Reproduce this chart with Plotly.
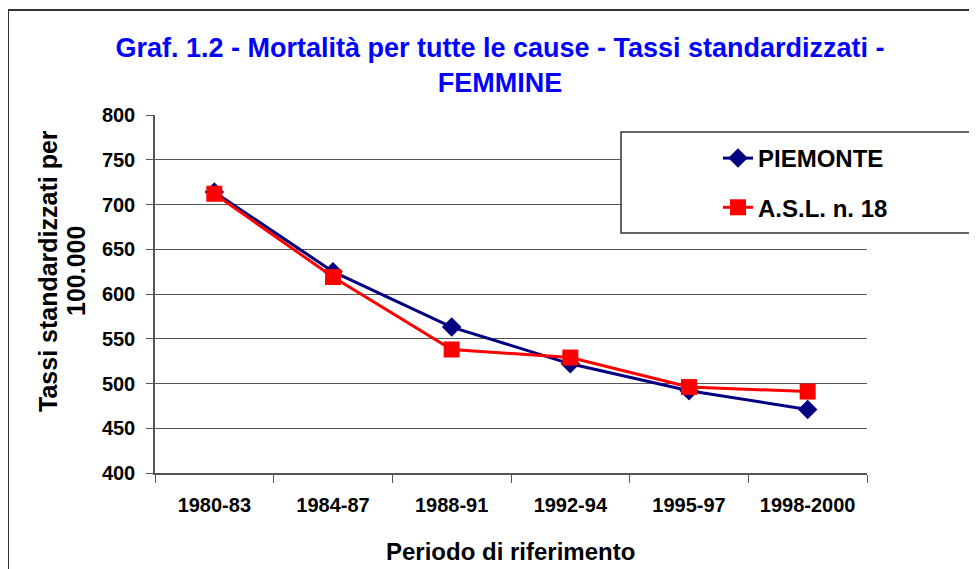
import plotly.graph_objects as go

# the page adds an 8px body margin, so the figure is drawn 8px smaller
OFF = 8
W, H = 977 - OFF, 569 - OFF

periodi = ["1980-83", "1984-87", "1988-91", "1992-94", "1995-97", "1998-2000"]
piemonte = [714, 625, 563, 522, 492, 471]
asl18 = [712, 619, 538, 529, 496, 491]
y_ticks = [400, 450, 500, 550, 600, 650, 700, 750, 800]

title_line1 = "Graf. 1.2 - Mortalità per tutte le cause - Tassi standardizzati -"
title_line2 = "FEMMINE"
x_title = "Periodo di riferimento"
y_title_1 = "Tassi standardizzati per"
y_title_2 = "100.000"

FONT = "Liberation Sans, Arial, sans-serif"


def px(x):
    return (x - OFF) / W


def py(y):
    return 1 - (y - OFF) / H


fig = go.Figure()
fig.add_trace(go.Scatter(
    x=periodi, y=piemonte, name="PIEMONTE", mode="lines+markers",
    line=dict(color="#000080", width=3),
    marker=dict(symbol="diamond", size=15, color="#000080"),
    legendgroup="a",
))
fig.add_trace(go.Scatter(
    x=periodi, y=asl18, name="A.S.L. n. 18", mode="lines+markers",
    line=dict(color="#FF0000", width=3),
    marker=dict(symbol="square", size=16, color="#FF0000"),
    legendgroup="b",
))

fig.update_layout(
    width=W, height=H,
    margin=dict(l=0, r=0, t=0, b=0, autoexpand=False),
    paper_bgcolor="white", plot_bgcolor="white",
    font=dict(family=FONT, color="black"),
    title=dict(
        text=title_line1 + "<br>" + title_line2, x=px(500), xanchor="center",
        y=py(57), yanchor="top", yref="paper",
        font=dict(family=FONT, size=27, color="#0000FF", weight="bold"),
    ),
    xaxis=dict(
        domain=[px(155), px(867)], type="category", range=[-0.5, 5.5], automargin=False,
        showline=True, linecolor="#555555", linewidth=1.5,
        ticks="outside", tickson="boundaries", ticklen=8, tickcolor="#555555",
        ticklabelstandoff=13,
        tickfont=dict(family=FONT, size=20, weight="bold"),
        showgrid=False, zeroline=False,
    ),
    yaxis=dict(
        domain=[py(473), py(115)], range=[400, 800], tickvals=y_ticks, automargin=False,
        showline=True, linecolor="#555555", linewidth=1.5,
        ticks="outside", ticklen=7, tickcolor="#555555",
        ticklabelstandoff=7,
        tickfont=dict(family=FONT, size=20, weight="bold"),
        showgrid=True, gridcolor="#555555", gridwidth=1.3,
        zeroline=False,
    ),
    legend=dict(
        x=px(718), y=py(136), xanchor="left", yanchor="top",
        xref="paper", yref="paper",
        bgcolor="rgba(0,0,0,0)", borderwidth=0,
        font=dict(family=FONT, size=24, weight="bold"),
        tracegroupgap=15,
    ),
    showlegend=True,
    annotations=[
        dict(text=x_title, x=px(510), y=py(551), xref="paper", yref="paper",
             showarrow=False, xanchor="center", yanchor="middle",
             font=dict(family=FONT, size=24, weight="bold")),
        dict(text=y_title_1, x=px(48), y=py(271), xref="paper", yref="paper",
             showarrow=False, textangle=-90, xanchor="center", yanchor="middle",
             font=dict(family=FONT, size=25, weight="bold")),
        dict(text=y_title_2, x=px(76), y=py(271), xref="paper", yref="paper",
             showarrow=False, textangle=-90, xanchor="center", yanchor="middle",
             font=dict(family=FONT, size=25, weight="bold")),
    ],
    shapes=[
        dict(type="rect", xref="paper", yref="paper",
             x0=px(8), x1=1.02, y0=-0.02, y1=py(10),
             line=dict(color="#333333", width=2), fillcolor="rgba(0,0,0,0)", layer="below"),
        dict(type="rect", xref="paper", yref="paper",
             x0=px(621), x1=1.02, y0=py(233), y1=py(132),
             line=dict(color="#333333", width=1.5), fillcolor="white", layer="above"),
    ],
)

fig.write_html("out.html")
